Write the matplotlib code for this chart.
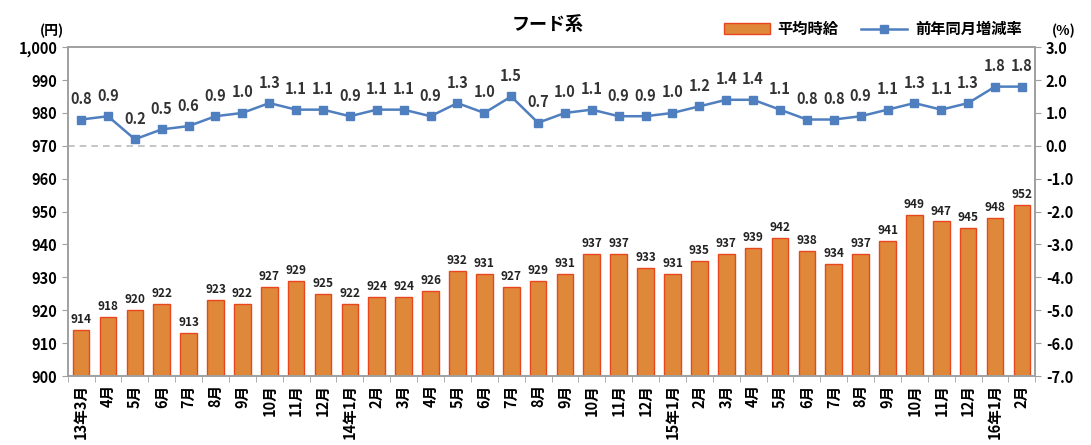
import numpy as np
import matplotlib.pyplot as plt
from matplotlib.ticker import FuncFormatter, FixedLocator

plt.rcParams['font.family'] = ['Noto Sans CJK JP', 'DejaVu Sans']

# months
months = ['13年3月', '4月', '5月', '6月', '7月', '8月', '9月', '10月', '11月', '12月',
          '14年1月', '2月', '3月', '4月', '5月', '6月', '7月', '8月', '9月', '10月', '11月', '12月',
          '15年1月', '2月', '3月', '4月', '5月', '6月', '7月', '8月', '9月', '10月', '11月', '12月',
          '16年1月', '2月']

# average hourly wage (yen)
wage = [914, 918, 920, 922, 913, 923, 922, 927, 929, 925,
        922, 924, 924, 926, 932, 931, 927, 929, 931, 937, 937, 933,
        931, 935, 937, 939, 942, 938, 934, 937, 941, 949, 947, 945,
        948, 952]

# year-on-year change (%)
yoy = [0.8, 0.9, 0.2, 0.5, 0.6, 0.9, 1.0, 1.3, 1.1, 1.1,
       0.9, 1.1, 1.1, 0.9, 1.3, 1.0, 1.5, 0.7, 1.0, 1.1, 0.9, 0.9,
       1.0, 1.2, 1.4, 1.4, 1.1, 0.8, 0.8, 0.9, 1.1, 1.3, 1.1, 1.3,
       1.8, 1.8]

x = np.arange(len(months))

fig = plt.figure(figsize=(10.91, 4.45), dpi=100)
ax = fig.add_axes([0.062, 0.155, 0.887, 0.739])

bar_col = '#E0883A'
edge_col = '#E8461E'
line_col = '#4F7FBF'
spine_col = '#A0A0A0'

ax.bar(x, wage, width=0.62, color=bar_col, edgecolor=edge_col, linewidth=1.0,
       label='平均時給', zorder=2)
ax.set_ylim(900, 1000)
ax.set_xlim(-0.5, len(months) - 0.5)
ax.set_yticks(np.arange(900, 1001, 10))
ax.yaxis.set_major_formatter(FuncFormatter(lambda v, p: f'{int(v):,}'))
ax.set_xticks(x)
ax.set_xticklabels(months, rotation=90, fontsize=10.5, fontweight='bold')
ax.xaxis.set_minor_locator(FixedLocator(np.arange(-0.5, len(months), 1.0)))
ax.tick_params(axis='y', labelsize=10.5, length=4, color=spine_col)
ax.tick_params(axis='x', which='major', length=0, pad=6)
ax.tick_params(axis='x', which='minor', length=4, color=spine_col)
for lbl in ax.get_yticklabels():
    lbl.set_fontweight('bold')

for xi, v in zip(x, wage):
    ax.text(xi, v + 1.2, str(v), ha='center', va='bottom', fontsize=8.5,
            fontweight='bold', color='#222222')

ax2 = ax.twinx()
ax2.set_ylim(-7, 3)
ax2.set_yticks(np.arange(-7, 3.01, 1))
ax2.yaxis.set_major_formatter(FuncFormatter(lambda v, p: f'{v:.1f}'))
ax2.tick_params(axis='y', labelsize=10.5, length=4, color=spine_col)
for lbl in ax2.get_yticklabels():
    lbl.set_fontweight('bold')
ax2.axhline(0, color='#BBBBBB', linestyle=(0, (4, 3)), linewidth=1.2, zorder=1)
ax2.plot(x, yoy, color=line_col, marker='s', markersize=5.5, linewidth=1.8,
         label='前年同月増減率', zorder=3)
for xi, v in zip(x, yoy):
    ax2.text(xi, v + 0.38, f'{v:.1f}', ha='center', va='bottom', fontsize=10.5,
             fontweight='bold', color='#333333')

for a in (ax, ax2):
    for s in a.spines.values():
        s.set_color(spine_col)
        s.set_linewidth(1.2)

fig.text(0.502, 0.945, 'フード系', ha='center', va='center', fontsize=13, fontweight='bold')
fig.text(0.048, 0.93, '(円)', ha='center', va='center', fontsize=10, fontweight='bold')
fig.text(0.975, 0.93, '(%)', ha='center', va='center', fontsize=10, fontweight='bold')

h1, l1 = ax.get_legend_handles_labels()
h2, l2 = ax2.get_legend_handles_labels()
fig.legend(h1 + h2, l1 + l2, loc='center', bbox_to_anchor=(0.80, 0.935), ncol=2,
           frameon=False, prop={'size': 11, 'weight': 'bold'}, handlelength=3,
           columnspacing=1.5, handletextpad=0.5)

fig.savefig('out.png', dpi=100)
